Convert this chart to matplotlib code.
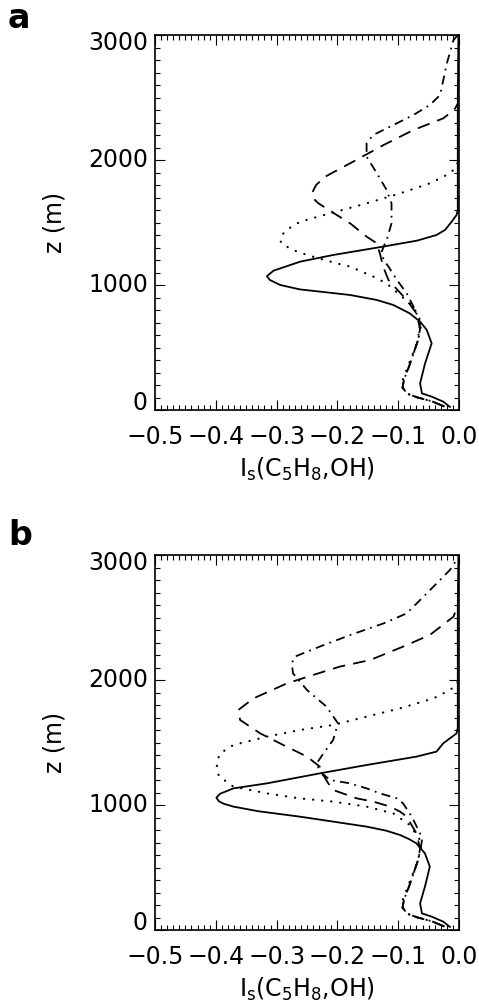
import numpy as np
import matplotlib
matplotlib.use("Agg")
import matplotlib.pyplot as plt
from matplotlib.ticker import MultipleLocator, FuncFormatter, NullFormatter
from matplotlib.transforms import ScaledTranslation

# ---- panel a : I_s(C5H8,OH) profiles, x = I_s, z = height (m) ----
a_solid_x = [-0.015, -0.026, -0.045, -0.061, -0.064, -0.056, -0.045, -0.053, -0.064, -0.081, -0.108,
             -0.135, -0.179, -0.225, -0.262, -0.294, -0.311, -0.316, -0.305, -0.261, -0.207, -0.125,
             -0.069, -0.037, -0.023, -0.012, -0.004, -0.002, -0.002, -0.001]
a_solid_z = [25, 67, 107, 133, 213, 370, 533, 640, 707, 773, 840,
             880, 920, 945, 965, 1000, 1040, 1070, 1115, 1187, 1240, 1307,
             1355, 1400, 1440, 1507, 1560, 1600, 2500, 3000]

a_dot_x = [-0.025, -0.045, -0.068, -0.085, -0.093, -0.092, -0.084, -0.076, -0.068, -0.063, -0.064,
           -0.075, -0.097, -0.119, -0.141, -0.179, -0.201, -0.250, -0.273, -0.292, -0.294, -0.291,
           -0.284, -0.261, -0.212, -0.152, -0.097, -0.048, -0.015, -0.004, -0.001]
a_dot_z = [30, 70, 100, 130, 180, 250, 350, 450, 550, 650, 720,
           827, 920, 1013, 1067, 1147, 1173, 1240, 1280, 1330, 1360, 1400,
           1440, 1507, 1573, 1653, 1733, 1813, 1893, 1947, 2000]

a_dash_x = [-0.025, -0.045, -0.068, -0.085, -0.093, -0.090, -0.082, -0.075, -0.068, -0.064, -0.070,
            -0.086, -0.116, -0.125, -0.130, -0.135, -0.152, -0.179, -0.201, -0.231, -0.237, -0.242,
            -0.235, -0.220, -0.174, -0.124, -0.075, -0.026, -0.008, -0.002]
a_dash_z = [30, 70, 100, 130, 180, 250, 350, 450, 550, 650, 773,
            880, 1040, 1150, 1250, 1333, 1387, 1493, 1560, 1653, 1680, 1733,
            1800, 1867, 1987, 2120, 2240, 2333, 2400, 2450]

a_dashdot_x = [-0.025, -0.045, -0.068, -0.085, -0.093, -0.090, -0.082, -0.075, -0.068, -0.064, -0.072,
               -0.086, -0.102, -0.116, -0.124, -0.127, -0.124, -0.119, -0.111, -0.111, -0.119, -0.135,
               -0.152, -0.152, -0.141, -0.119, -0.075, -0.048, -0.031, -0.020, -0.009, -0.002]
a_dashdot_z = [30, 70, 100, 130, 180, 250, 350, 450, 550, 693, 800,
               933, 1040, 1147, 1200, 1267, 1307, 1360, 1493, 1653, 1760, 1893,
               2027, 2133, 2200, 2253, 2360, 2440, 2520, 2773, 2960, 3000]

# ---- panel b ----
b_solid_x = [-0.015, -0.026, -0.045, -0.061, -0.064, -0.056, -0.048, -0.056, -0.070, -0.082, -0.097,
             -0.120, -0.152, -0.200, -0.262, -0.330, -0.371, -0.387, -0.395, -0.399, -0.393, -0.371,
             -0.316, -0.229, -0.152, -0.070, -0.037, -0.026, -0.015, -0.004, -0.002, -0.002, -0.001]
b_solid_z = [25, 67, 107, 133, 213, 347, 507, 613, 693, 727, 760,
             795, 827, 862, 907, 950, 987, 1010, 1030, 1059, 1090, 1133,
             1173, 1253, 1320, 1387, 1427, 1493, 1533, 1573, 1620, 2600, 3000]

b_dot_x = [-0.025, -0.045, -0.068, -0.085, -0.093, -0.092, -0.084, -0.076, -0.068, -0.063, -0.064,
           -0.081, -0.108, -0.152, -0.207, -0.262, -0.316, -0.371, -0.395, -0.399, -0.393, -0.371,
           -0.316, -0.262, -0.207, -0.152, -0.097, -0.042, -0.015, -0.004, -0.001]
b_dot_z = [30, 70, 100, 130, 180, 250, 350, 450, 550, 650, 720,
           840, 933, 987, 1027, 1053, 1093, 1147, 1230, 1333, 1413, 1480,
           1547, 1600, 1640, 1707, 1773, 1853, 1920, 1960, 2000]

b_dash_x = [-0.025, -0.045, -0.068, -0.085, -0.093, -0.090, -0.082, -0.075, -0.068, -0.064, -0.070,
            -0.086, -0.097, -0.113, -0.141, -0.168, -0.207, -0.215, -0.222, -0.229, -0.229, -0.250,
            -0.289, -0.327, -0.360, -0.363, -0.338, -0.283, -0.240, -0.196, -0.146, -0.092, -0.048,
            -0.009, -0.002]
b_dash_z = [30, 70, 100, 130, 180, 250, 350, 450, 550, 650, 773,
            907, 947, 987, 1027, 1053, 1120, 1173, 1230, 1267, 1307, 1387,
            1480, 1573, 1680, 1760, 1853, 1973, 2040, 2107, 2160, 2267, 2360,
            2507, 2600]

b_dashdot_x = [-0.025, -0.045, -0.068, -0.085, -0.093, -0.090, -0.082, -0.075, -0.068, -0.063, -0.061,
               -0.064, -0.075, -0.081, -0.092, -0.102, -0.130, -0.152, -0.179, -0.196, -0.212, -0.229,
               -0.234, -0.223, -0.207, -0.199, -0.218, -0.250, -0.273, -0.275, -0.270, -0.229, -0.179,
               -0.124, -0.086, -0.053, -0.015, -0.004]
b_dashdot_z = [30, 70, 100, 130, 180, 250, 350, 450, 550, 650, 720,
               773, 880, 933, 1013, 1053, 1093, 1133, 1173, 1187, 1200, 1267,
               1333, 1413, 1520, 1653, 1787, 1920, 2053, 2133, 2187, 2267, 2360,
               2453, 2533, 2693, 2880, 2960]

z_ticks = [0, 1000, 2000, 3000]

panels = [
    ("a", a_solid_x, a_solid_z, a_dot_x, a_dot_z, a_dash_x, a_dash_z, a_dashdot_x, a_dashdot_z),
    ("b", b_solid_x, b_solid_z, b_dot_x, b_dot_z, b_dash_x, b_dash_z, b_dashdot_x, b_dashdot_z),
]

plt.rcParams['font.family'] = ['DejaVu Sans']
plt.rcParams['mathtext.fontset'] = 'dejavusans'

W, H = 479, 1006
fig = plt.figure(figsize=(W / 100, H / 100), dpi=100)

lw = 1.3


def xfmt(v, pos):
    s = '%.1f' % abs(v)
    return ('\u2212' + s) if v < -1e-9 else s


for k, (lab, sx, sz, dx, dz, ex, ez, ddx, ddz) in enumerate(panels):
    top = 35 if k == 0 else 555
    bot = 410 if k == 0 else 930
    ax = fig.add_axes([155 / W, 1 - bot / H, 304 / W, (bot - top) / H])
    ax.plot(sx, sz, color='k', lw=lw, linestyle='-')
    ax.plot(dx, dz, color='k', lw=1.6, linestyle=(0, (0.1, 4.0)), dash_capstyle='round')
    ax.plot(ex, ez, color='k', lw=lw, linestyle=(0, (7, 4.5)))
    ax.plot(ddx, ddz, color='k', lw=lw, linestyle=(0, (5, 3, 1, 3)))

    ax.set_xlim(-0.5, 0.0)
    ax.set_ylim(0, 3000)
    ax.xaxis.set_major_locator(MultipleLocator(0.1))
    ax.xaxis.set_minor_locator(MultipleLocator(0.01))
    ax.set_yticks(z_ticks)
    ax.yaxis.set_minor_locator(MultipleLocator(100))
    ax.xaxis.set_major_formatter(FuncFormatter(xfmt))
    ax.yaxis.set_major_formatter(NullFormatter())
    ax.tick_params(which='both', direction='in', top=True, right=True, labelsize=17, width=0.8)
    ax.tick_params(axis='x', which='major', length=7, pad=11)
    ax.tick_params(axis='y', which='major', length=7)
    ax.tick_params(which='minor', length=3.5)
    for s in ax.spines.values():
        s.set_linewidth(1.2)

    # y labels drawn IDL-style: end labels pulled inside the axis range
    for v in z_ticks:
        dy = -8 if v == z_ticks[-1] else (7 if v == z_ticks[0] else 0)
        tr = ax.get_yaxis_transform() + ScaledTranslation(-7 / 100, dy / 100, fig.dpi_scale_trans)
        ax.text(0, v, '%d' % v, transform=tr, ha='right', va='center', fontsize=17)

    ax.set_xlabel(r'$\mathregular{I_s(C_5H_8{,}OH)}$', fontsize=17, labelpad=5)
    ax.text(-0.33, 0.5, 'z (m)', transform=ax.transAxes, rotation=90, ha='center', va='center',
            fontsize=17)

    fig.text(8 / W, 1 - (28 if k == 0 else 545) / H, lab, fontsize=24, fontweight='bold',
             ha='left', va='baseline')

fig.savefig('out.png', dpi=100)
